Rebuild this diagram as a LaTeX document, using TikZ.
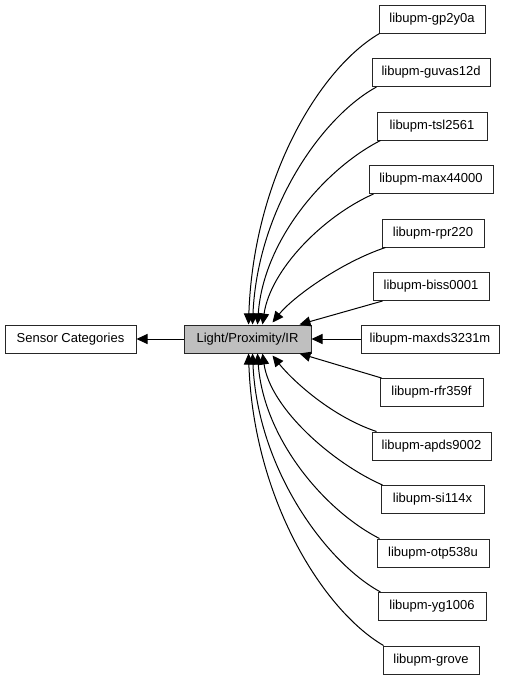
\documentclass[tikz,border=0pt]{standalone}
\usepackage{fontspec}
\setmainfont{Liberation Sans}
\usetikzlibrary{arrows.meta,calc}
\begin{document}
\begin{tikzpicture}[x=1pt,y=-1pt,
  box/.style={draw=black!85, line width=1pt, minimum height=28pt, inner sep=0pt, font=\fontsize{13}{15}\selectfont, fill=white},
  hl/.style={box, fill=black!25},
  link/.style={line width=1pt, draw=black, -{Triangle[length=11pt,width=10pt]}}]
\useasboundingbox (0,0) rectangle (509,680);
\node[box, minimum width=131pt] (cat) at (70.5,339) {Sensor Categories};
\node[hl, minimum width=127pt] (light) at (247.5,339) {Light/Proximity/IR};
\node[box, minimum width=106pt] (gp) at (432,19) {libupm-gp2y0a};
\node[box, minimum width=118pt] (guvas) at (431,72.5) {libupm-guvas12d};
\node[box, minimum width=110pt] (tsl) at (432,126) {libupm-tsl2561};
\node[box, minimum width=124pt] (max) at (431,179.5) {libupm-max44000};
\node[box, minimum width=102pt] (rpr) at (433,233) {libupm-rpr220};
\node[box, minimum width=116pt] (biss) at (431,286.5) {libupm-biss0001};
\node[box, minimum width=138pt] (maxds) at (430,339) {libupm-maxds3231m};
\node[box, minimum width=103pt] (rfr) at (431.5,392.5) {libupm-rfr359f};
\node[box, minimum width=119pt] (apds) at (431.5,446) {libupm-apds9002};
\node[box, minimum width=103pt] (si) at (432.5,499.5) {libupm-si114x};
\node[box, minimum width=112pt] (otp) at (433,553) {libupm-otp538u};
\node[box, minimum width=108pt] (yg) at (432,606.5) {libupm-yg1006};
\node[box, minimum width=96pt] (grove) at (431,660) {libupm-grove};

\draw[link] (light) -- (cat);
\draw[link] (maxds) -- (light);
% top
\draw[link] ($(gp.south west)+(1,0)$) .. controls +(-60,35) and +(5,-146) .. ($(light.north west)+(65,0)$);
\draw[link] ($(guvas.south west)+(5,0)$) .. controls +(-55,30) and +(5,-115) .. ($(light.north west)+(69,0)$);
\draw[link] ($(tsl.south west)+(4,0)$) .. controls +(-55,28) and +(6,-85) .. ($(light.north west)+(74,0)$);
\draw[link] ($(max.south west)+(5,0)$) .. controls +(-50,22) and +(8,-55) .. ($(light.north west)+(79,0)$);
\draw[link] ($(rpr.south west)+(4,0)$) .. controls +(-45,15) and +(20,-25) .. ($(light.north west)+(89,-2)$);
\draw[link] ($(biss.south west)+(10,0)$) -- ($(light.north west)+(116,0)$);
% bottom
\draw[link] ($(rfr.north west)+(2,0)$) -- ($(light.south west)+(116,0)$);
\draw[link] ($(apds.north west)+(5,0)$) .. controls +(-45,-15) and +(20,25) .. ($(light.south west)+(89,2)$);
\draw[link] ($(si.north west)+(2,0)$) .. controls +(-50,-22) and +(8,55) .. ($(light.south west)+(79,0)$);
\draw[link] ($(otp.north west)+(3,0)$) .. controls +(-55,-28) and +(6,85) .. ($(light.south west)+(74,0)$);
\draw[link] ($(yg.north west)+(3,0)$) .. controls +(-55,-30) and +(5,115) .. ($(light.south west)+(69,0)$);
\draw[link] ($(grove.north west)+(1,0)$) .. controls +(-60,-35) and +(5,146) .. ($(light.south west)+(65,0)$);
\end{tikzpicture}
\end{document}
